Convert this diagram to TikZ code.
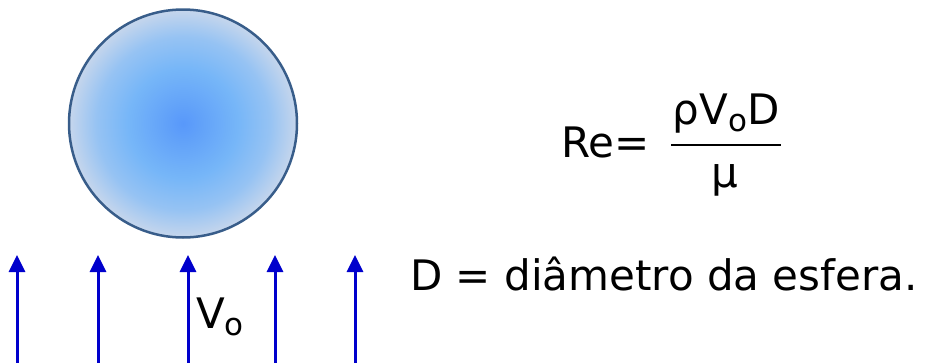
\documentclass[tikz,border=0pt]{standalone}
\usepackage{fontspec}
\setmainfont{DejaVu Sans}
\usetikzlibrary{arrows.meta}
\definecolor{flowblue}{RGB}{0,0,204}
\definecolor{rim}{RGB}{56,93,138}
\definecolor{sphc}{RGB}{88,152,250}
\definecolor{sphm}{RGB}{118,182,248}
\definecolor{sphe}{RGB}{198,214,236}
\pgfdeclareradialshading{spheresh}{\pgfpoint{0bp}{0bp}}{color(0bp)=(sphc); color(12bp)=(sphm); color(19bp)=(sphm!60!sphe); color(25bp)=(sphe); color(50bp)=(sphe)}
\newcommand{\lowidx}[1]{\raisebox{-7pt}{\fontsize{31}{31}\selectfont #1}}
\begin{document}
\begin{tikzpicture}[x=1pt,y=-1pt,
  flow/.style={draw=flowblue, line width=3pt, -{Triangle[length=17pt,width=16pt]}},
  txt/.style={inner sep=0pt, font=\fontsize{42}{50}\selectfont}]
\useasboundingbox (0,0) rectangle (929,362);
\node[circle, minimum size=228pt, inner sep=0pt, draw=rim, line width=2.5pt, shading=spheresh] (sphere) at (183,123.5) {};
\foreach \i/\x in {1/17,2/98,3/188,4/275,5/355}{
  \coordinate (b\i) at (\x,366);
  \coordinate (t\i) at (\x,255);
  \draw[flow] (b\i) -- (t\i);
}
\node[txt, anchor=base west] (vo) at (196,328) {V\lowidx{o}};
\node[txt, anchor=base west] (re) at (561,157) {Re=};
\node[txt, anchor=base] (num) at (726,124) {ρV\lowidx{o}D};
\coordinate (fl) at (671,145);
\coordinate (fr) at (781,145);
\draw[line width=2.2pt] (fl) -- (fr);
\node[txt, anchor=base] (mu) at (725,187) {μ};
\node[txt, anchor=base west] (def) at (410,290) {D = diâmetro da esfera.};
\end{tikzpicture}
\end{document}
